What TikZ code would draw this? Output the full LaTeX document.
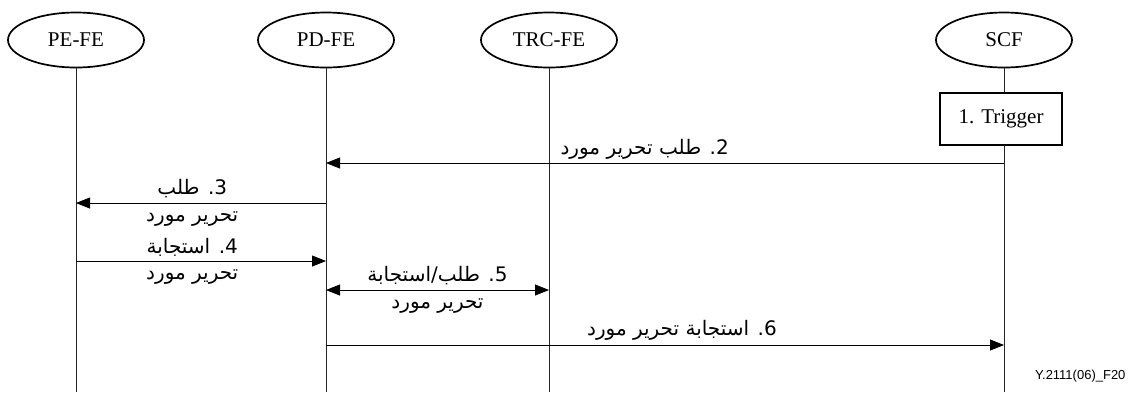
\documentclass[tikz,border=0pt]{standalone}
\usepackage{fontspec}
\setmainfont{Liberation Serif}
\setsansfont{Liberation Sans}
\newfontfamily\arabicfont[Script=Arabic]{DejaVu Sans}
\TeXXeTstate=1
\usetikzlibrary{arrows.meta, shapes.geometric}

% arabic message label
\newcommand{\ar}[1]{{\arabicfont\fontsize{20}{23}\selectfont\beginR #1\endR}}

\tikzset{
  entity/.style={draw, ellipse, line width=1.7pt, minimum width=136pt, minimum height=55pt,
    font=\fontsize{21}{24}\selectfont},
  lifeline/.style={line width=0.8pt, draw=black!85},
  trigbox/.style={draw, fill=white, line width=1.7pt, minimum width=122pt, minimum height=52pt,
    font=\fontsize{21}{24}\selectfont},
  msg/.style={line width=0.8pt, -{Triangle[length=14pt,width=11pt]}},
  dmsg/.style={line width=0.8pt, {Triangle[length=14pt,width=11pt]}-{Triangle[length=14pt,width=11pt]}}
}

\begin{document}
\begin{tikzpicture}[x=1pt, y=-1pt]
        \useasboundingbox (0,0) rectangle (1133,392);

        % functional entities
        \node[entity] (pe)  at (76,40)   {PE-FE};
        \node[entity] (pd)  at (326,40)  {PD-FE};
        \node[entity] (trc) at (549,40)  {TRC-FE};
        \node[entity] (scf) at (1004,40) {SCF};

        % lifelines
        \coordinate (bot) at (0,392);
        \foreach \n in {pe,pd,trc,scf}
            \draw[lifeline] (\n.south) -- (\n |- bot);

        % message rows
        \coordinate (m2) at (0,163);
        \coordinate (m3) at (0,203);
        \coordinate (m4) at (0,261);
        \coordinate (m5) at (0,290);
        \coordinate (m6) at (0,345);

        % 1. trigger
        \node[trigbox] (trig) at (1001,119) {1. Trigger};

        % 2.
        \draw[msg] (scf |- m2) -- (pd |- m2)
            node[pos=0.53, above=0pt] {\ar{2. طلب تحرير مورد}};

        % 3.
        \draw[msg] (pd |- m3) -- (pe |- m3)
            node[pos=0.535, above=1pt] {\ar{3. طلب}}
            node[pos=0.535, below=5pt] {\ar{تحرير مورد}};

        % 4.
        \draw[msg] (pe |- m4) -- (pd |- m4)
            node[pos=0.465, above=1pt] {\ar{4. استجابة}}
            node[pos=0.465, below=5pt] {\ar{تحرير مورد}};

        % 5.
        \draw[dmsg] (pd |- m5) -- (trc |- m5)
            node[midway, above=1pt] {\ar{5. طلب/استجابة}}
            node[midway, below=5pt] {\ar{تحرير مورد}};

        % 6.
        \draw[msg] (pd |- m6) -- (scf |- m6)
            node[pos=0.525, above=1pt] {\ar{6. استجابة تحرير مورد}};

        % figure tag
        \node[font=\sffamily\fontsize{13}{15}\selectfont, anchor=south east] (tag) at (1129,386) {Y.2111(06)\_F20};
    \end{tikzpicture}
\end{document}
